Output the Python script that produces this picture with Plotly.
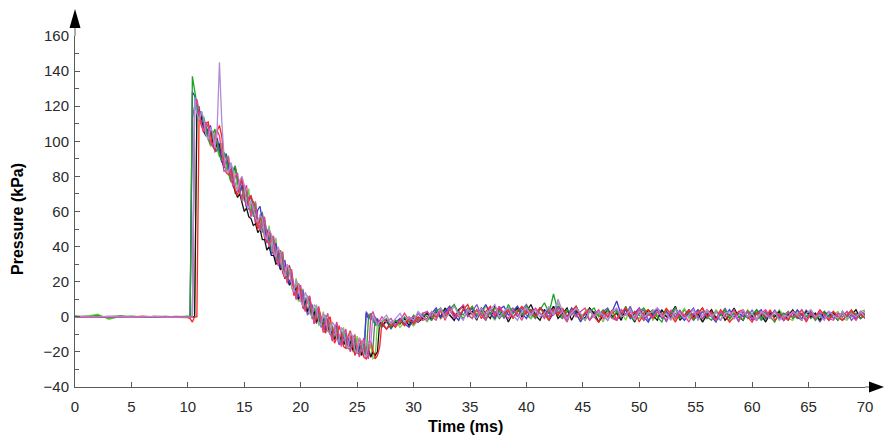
import numpy as np
import plotly.graph_objects as go

# ---------------- data ----------------
# time grid (ms): 1 ms before the shock, 0.2 ms over the positive/negative phase, 0.4 ms in the tail
T_PRE = [0, 1, 2, 3, 4, 5, 6, 7, 8, 9, 10]
T_DECAY = np.round(10.2 + 0.2 * np.arange(85), 1)
T_TAIL = np.round(27.2 + 0.4 * np.arange(108), 1)

SLATE_PRE = [0, 0, -0.2, 0.2, 0, 0, 0.2, -0.2, 0, 0, 0]
SLATE_DECAY = [0, 113, 120, 122, 112, 114, 105, 109, 102, 107,
               102, 94, 95, 99, 93, 83, 83, 87, 87, 78,
               70, 72, 75, 77, 70, 63, 68, 69, 62, 53,
               53, 58, 59, 51, 42, 44, 47, 37, 31, 34,
               36, 31, 23, 28, 29, 21, 13, 17, 11, 14,
               15, 8, 1, 3, 7, 2, -3, 2, -3, -8,
               -3, -1, -8, -13, -8, -11, -16, -13, -10, -16,
               -13, -11, -17, -21, -17, -21, -17, -21, 3, 1,
               -2, 0, -3, -5, -2]
SLATE_TAIL = [-6, -2, -7, -3, -1, -5, 0, -3, 2, -1,
              3, -1, 4, 0, 5, 1, -2, 4, 6, 0,
              3, 7, 1, -2, 4, 2, 6, -1, 3, 5,
              0, 4, 7, 2, -1, 5, 3, 0, 6, 2,
              4, -2, 3, 6, 1, -1, 4, 2, -3, 3,
              5, 0, -2, 4, 1, 6, -1, 2, 4, -2,
              1, 5, 2, -3, 3, 0, 4, -2, 2, 5,
              -1, 3, 0, 4, -2, 1, 5, -1, 2, -3,
              3, 0, 4, -2, 1, 3, -1, 4, 0, 2,
              -2, 3, 1, -1, 4, 0, 2, -3, 1, 3,
              -1, 2, 0, 3, -2, 1, 2, 0]

BLUE_PRE = [0, 0.2, 0, -0.2, 0, 0.2, 0, -0.3, 0, 0.2, 0]
BLUE_DECAY = [0, 128, 126, 119, 113, 117, 110, 103, 107, 109,
              103, 96, 102, 96, 88, 91, 93, 86, 78, 83,
              85, 78, 71, 75, 69, 62, 67, 68, 61, 55,
              61, 63, 54, 47, 50, 44, 36, 37, 42, 34,
              28, 31, 32, 24, 19, 24, 18, 10, 12, 16,
              11, 5, 9, 10, 3, -3, 2, 4, -3, -1,
              -7, -2, -7, -12, -7, -5, -11, -16, -11, -15,
              -12, -17, -15, -13, -20, -18, -16, -22, 2, -1,
              2, -2, -4, -1, -5]
BLUE_TAIL = [-4, -7, -3, -5, -1, -4, -6, -1, -3, 1,
             -2, 2, 5, 0, 3, 6, 1, -2, 4, 2,
             5, 0, 3, 7, 2, -1, 4, 6, 1, 3,
             6, 2, -1, 4, 1, 5, 3, -2, 2, 6,
             3, 0, 5, 2, -3, 2, 4, 0, 3, 1,
             -2, 3, 9, 1, 4, -1, 2, 5, 0, -3,
             2, 4, -1, 3, 0, 5, 1, -2, 3, 1,
             4, -1, 2, 0, -3, 3, 1, 4, -1, 2,
             0, 3, -2, 2, 4, -1, 1, 3, 0, -2,
             2, 0, 4, 1, -2, 3, 0, 2, -1, 1,
             3, 0, -2, 1, 2, -1, 3, 1]

GREEN_PRE = [0.5, 0, 0.8, -0.8, 0, 0.3, 0, -0.3, 0.2, 0, 0.4]
GREEN_DECAY = [0, 137, 129, 121, 113, 110, 114, 108, 101, 98,
               104, 107, 99, 92, 89, 94, 90, 82, 77, 84,
               86, 79, 71, 68, 74, 71, 63, 59, 66, 62,
               53, 50, 57, 55, 47, 41, 46, 44, 35, 31,
               38, 33, 24, 21, 27, 25, 16, 12, 19, 15,
               6, 5, 12, 8, 0, -2, 5, 2, -5, -6,
               1, -3, -9, -12, -5, -7, -14, -15, -8, -10,
               -18, -19, -11, -13, -20, -21, -15, -16, -23, -1,
               2, -2, -5, -3, -6]
GREEN_TAIL = [-3, -1, -6, -2, -4, 0, -3, 1, -2, 2,
              0, -2, 3, 5, 1, 4, 7, 2, -1, 3,
              6, 1, 4, -1, 2, 5, 3, 0, 7, 2,
              4, 1, 6, 3, -1, 4, 8, 2, 13, 3,
              0, 4, 2, 6, 1, -2, 3, 5, 0, 2,
              4, -1, 3, 1, 6, 0, -2, 3, 5, 1,
              3, 0, -3, 4, 2, 5, -1, 1, 3, -2,
              2, 5, 0, -2, 3, 1, 4, -1, 2, 0,
              -2, 3, 1, 4, -1, 2, 0, -3, 2, 1,
              3, -1, 1, 4, 0, 2, -2, 1, 3, 0,
              1, -2, 2, 0, 3, 1, -1, 2]

RED_PRE = [0, -0.3, 0, 0.2, 0, -0.2, 0.3, 0, -0.2, 0, -0.5]
RED_DECAY = [-1, -3, 0, 0, 117, 109, 105, 110, 111, 103,
             97, 95, 106, 109, 103, 90, 82, 81, 84, 80,
             72, 69, 76, 79, 70, 63, 66, 69, 64, 55,
             50, 56, 56, 45, 43, 49, 46, 36, 34, 38,
             35, 25, 22, 28, 29, 21, 12, 14, 19, 13,
             5, 4, 10, 11, 4, -4, -1, 5, 0, -8,
             -9, -2, 0, -8, -15, -12, -5, -10, -17, -18,
             -11, -8, -15, -22, -19, -12, -17, -23, -24, -16,
             -14, -20, -24, -22, -17]
RED_TAIL = [-3, -7, -4, -6, -2, -5, -1, -4, 0, -2,
            -1, 3, 0, 4, -2, 5, 2, 0, 4, 7,
            1, 4, -1, 3, 6, 0, 5, 2, 4, -1,
            3, 6, 2, 4, 0, 5, 2, -2, 4, 1,
            5, 0, 3, 6, -1, 2, 4, 0, -3, 3,
            0, 4, -2, 2, 5, 0, 3, -3, 2, 4,
            -1, 3, 0, 5, 1, -3, 2, 0, 4, -1,
            2, 5, 0, 3, -2, 4, 1, -3, 0, 3,
            4, 0, -3, 2, 3, 0, 4, -2, 1, 0,
            -2, 3, 0, 2, -3, 2, 0, 4, 1, -2,
            3, 0, -2, 1, 4, 0, 2, -1]

LILAC_PRE = [0, -0.2, 0, 0.3, 0, -0.2, 0, 0.2, -0.2, 0, 0]
LILAC_DECAY = [0, 0, 125, 116, 112, 117, 113, 104, 101, 108,
               105, 96, 108, 145, 112, 92, 83, 82, 88, 84,
               75, 72, 78, 80, 75, 64, 62, 66, 62, 56,
               54, 58, 56, 46, 44, 50, 47, 37, 34, 40,
               36, 27, 23, 30, 27, 18, 14, 21, 18, 9,
               6, 14, 11, 2, 0, 7, 5, -3, -5, 2,
               0, -8, -10, -3, -5, -13, -14, -6, -8, -16,
               -18, -9, -11, -19, -21, -12, -14, -21, -23, -14,
               -16, 1, -2, -5, -3]
LILAC_TAIL = [-2, 1, -4, -1, 2, -3, 0, -2, 3, 0,
              -2, 3, 1, 5, -1, 2, 6, 1, -2, 4,
              2, -1, 5, 1, 4, 7, 0, 3, 5, 1,
              -2, 3, 5, 1, 4, 0, 2, 6, 1, 10,
              3, -1, 2, 5, 2, -2, 4, 0, 3, 1,
              -2, 3, 5, 0, 1, 4, -2, 3, 0, 2,
              3, 5, 0, 2, -2, 4, 2, -1, 1, 4,
              -2, 1, 4, 0, 3, -2, 2, 3, -1, 1,
              4, 0, 2, -2, 3, 1, -1, 3, -2, 1,
              0, 3, 1, -2, 2, 4, 0, 1, -2, 3,
              1, -1, 3, -1, 2, 0, 3, 0]

MAGENTA_PRE = [0, 0, 0.2, 0, -0.2, 0, 0.2, 0, -0.2, 0, -0.3]
MAGENTA_DECAY = [0, 0, 119, 124, 117, 110, 106, 111, 108, 99,
                 97, 103, 106, 103, 93, 85, 89, 91, 80, 74,
                 80, 82, 72, 66, 72, 75, 64, 57, 64, 65,
                 54, 49, 55, 57, 46, 40, 45, 46, 35, 29,
                 35, 37, 26, 19, 25, 27, 16, 10, 16, 18,
                 8, 3, 10, 12, 3, -4, 3, 6, -3, -9,
                 -2, 2, -8, -14, -7, -3, -12, -17, -10, -7,
                 -16, -20, -13, -10, -19, -23, -16, -12, -21, -24,
                 0, 3, -1, -4, -2]
MAGENTA_TAIL = [0, -3, -1, -5, -2, 2, -2, 0, -3, 2,
                3, 0, -2, 4, 1, 5, -1, 3, 7, 1,
                -1, 4, 2, -2, 5, 1, 6, 2, -1, 4,
                2, -2, 4, 1, 5, 2, -1, 4, 1, 5,
                1, -3, 4, 0, 3, 5, -2, 1, 4, -1,
                2, -1, -2, 4, 1, 3, -1, 5, -2, 1,
                0, 3, 1, -2, 4, -1, 3, 1, -3, 2,
                3, -1, 4, 1, -2, 3, 0, 1, 4, -2,
                1, 3, -1, -2, 2, 4, 0, 3, 1, -2,
                3, 0, 1, 4, -2, 2, -1, 3, 1, -1,
                -2, 2, 0, 3, 1, -2, 2, 3]

LIME_PRE = [0, 0.3, 1.5, -1.5, 0.3, 0, -0.2, 0, 0.2, 0, 0]
LIME_DECAY = [0, 0, 0, 120, 114, 117, 105, 108, 110, 97,
              99, 106, 95, 91, 99, 86, 84, 92, 77, 77,
              86, 72, 70, 79, 66, 65, 73, 58, 58, 66,
              52, 52, 60, 45, 44, 52, 38, 37, 45, 30,
              29, 37, 22, 22, 29, 16, 15, 22, 9, 9,
              16, 4, 4, 11, -1, -1, 7, -5, -4, 3,
              -9, -8, 0, -13, -12, -4, -15, -14, -6, -18,
              -17, -8, -20, -19, -11, -22, -21, -13, -24, -22,
              -15, -24, -23, -3, -6]
LIME_TAIL = [-4, -7, -5, -2, -6, -3, -1, -5, -2, 1,
             -3, 2, -1, 3, 0, 4, 1, -2, 5, 2,
             -1, 4, 1, 6, 2, -2, 4, 0, 5, 3,
             6, 1, 4, -1, 2, 5, 1, -2, 4, 8,
             2, -1, 4, 1, -2, 3, 5, 0, 2, -3,
             4, 1, -1, 3, -2, 5, 1, -1, 3, 4,
             -2, 1, 4, 0, 3, -2, 1, 5, -1, 2,
             1, -3, 3, 0, 4, 1, -1, -2, 3, 1,
             -2, 4, 1, -1, 3, -2, 1, 0, 4, 1,
             -1, -2, 3, 1, 0, 4, 1, -2, 0, 3,
             1, 3, -1, -2, 2, 0, 3, 4]

BLACK_PRE = [0, 0.2, -0.2, 0, 0.3, 0, -0.3, 0.2, 0, -0.2, 0]
BLACK_DECAY = [0, 0, 0, 116, 118, 113, 106, 103, 107, 105,
               99, 95, 99, 98, 90, 85, 88, 87, 79, 75,
               72, 68, 70, 64, 60, 62, 57, 56, 52, 53,
               48, 50, 44, 44, 38, 40, 35, 35, 30, 31,
               27, 28, 22, 23, 18, 20, 15, 16, 10, 12,
               6, 9, 3, 6, 0, 3, -3, 0, -5, -3,
               -8, -5, -10, -8, -13, -10, -14, -11, -16, -13,
               -18, -14, -19, -16, -21, -17, -22, -18, -22, -19,
               -23, -20, -22, -20, -3]
BLACK_TAIL = [-5, -2, -6, -3, -4, -1, -5, 0, -3, -1,
              2, -2, 3, 0, 5, 1, -2, 4, 6, 1,
              3, -2, 5, 2, -1, 6, 1, 3, -3, 2,
              5, 0, 3, 7, 1, -2, 4, 2, 6, -1,
              2, 5, -2, 3, 1, -1, 5, 2, -3, 1,
              4, 0, 2, -2, 5, 1, -3, 3, 0, 4,
              1, -2, 4, 0, 2, 6, -2, 1, 4, 0,
              2, -3, 1, 4, -1, 3, -2, 1, 5, 0,
              -2, 3, 0, 4, 1, -3, 2, 0, 3, -2,
              1, 4, 0, -2, 3, 0, 2, -2, 3, 0,
              2, -2, 3, 0, 1, 4, -1, 1]

DKGREEN_PRE = [0, 0, 0.2, 0, -0.2, 0, 0, 0.2, 0, 0, 0]
DKGREEN_DECAY = [0, 0, 121, 117, 120, 109, 112, 104, 107, 99,
                 103, 97, 94, 99, 88, 92, 84, 88, 78, 82,
                 74, 79, 70, 74, 66, 70, 61, 65, 57, 61,
                 52, 57, 48, 53, 43, 48, 38, 43, 33, 38,
                 27, 33, 22, 28, 18, 24, 13, 19, 9, 15,
                 5, 11, 2, 8, -1, 5, -4, 3, -6, 0,
                 -8, -2, -10, -5, -13, -7, -14, -8, -16, -10,
                 -18, -12, -19, -14, -21, -15, -22, -16, -23, -17,
                 -23, -18, 0, -3, -5]
DKGREEN_TAIL = [-5, -3, -6, -2, -4, -1, -3, -5, -1, 0,
                -2, 1, 3, -1, 2, 4, 0, 3, 1, 5,
                2, 0, 4, 1, 5, 3, -1, 2, 4, 0,
                3, 5, 1, -1, 4, 2, 0, 5, 3, 1,
                -1, 3, 1, 4, 0, 2, -2, 3, 1, 4,
                0, 2, 4, -1, 2, 0, 3, 1, -2, 2,
                4, 1, 0, 3, -1, 2, 0, 4, 1, -2,
                1, 3, -1, 2, 0, -2, 3, 1, 0, 2,
                3, -1, 1, 2, -2, 0, 3, 1, -1, 2,
                0, 2, -1, 1, 3, -1, 1, 0, 2, -2,
                1, 0, 2, -1, 0, 2, 1, 0]

# drawing order and colours
SERIES = [
    (DKGREEN_PRE, DKGREEN_DECAY, DKGREEN_TAIL, "#4f8060"),
    (LIME_PRE, LIME_DECAY, LIME_TAIL, "#78cf3c"),
    (SLATE_PRE, SLATE_DECAY, SLATE_TAIL, "#7b52c4"),
    (BLACK_PRE, BLACK_DECAY, BLACK_TAIL, "#111111"),
    (BLUE_PRE, BLUE_DECAY, BLUE_TAIL, "#3b3bd0"),
    (GREEN_PRE, GREEN_DECAY, GREEN_TAIL, "#1fa31f"),
    (RED_PRE, RED_DECAY, RED_TAIL, "#ff2222"),
    (MAGENTA_PRE, MAGENTA_DECAY, MAGENTA_TAIL, "#e2409a"),
    (LILAC_PRE, LILAC_DECAY, LILAC_TAIL, "#b08cd6"),
]

X_TICKS = list(range(0, 71, 5))
Y_TICKS = list(range(-40, 161, 20))

# ---------------- figure ----------------
W, H = 884, 436
ML, MR, MT, MB = 75, 19, 36, 49
PW, PH = W - ML - MR, H - MT - MB


def px(x):
    return (x - ML) / PW


def py(y):
    return (H - MB - y) / PH


TIME = np.concatenate([T_PRE, T_DECAY, T_TAIL])

fig = go.Figure()
for pre, dec, tail, col in SERIES:
    vals = list(pre) + list(dec) + list(tail)
    assert len(vals) == len(TIME), (len(pre), len(dec), len(tail))
    fig.add_trace(go.Scatter(x=TIME, y=vals, mode="lines",
                             line=dict(color=col, width=1.3),
                             showlegend=False, hoverinfo="skip"))

AX = "#5a5a5a"
FONT = "Liberation Sans, Arial, sans-serif"

fig.update_layout(
    width=W, height=H,
    margin=dict(l=ML, r=MR, t=MT, b=MB),
    plot_bgcolor="white", paper_bgcolor="white",
    showlegend=False,
    xaxis=dict(range=[0, 70], tickvals=X_TICKS, ticks="inside", ticklen=5,
               tickcolor=AX, showline=True, linecolor=AX, linewidth=1,
               showgrid=False, zeroline=False,
               tickfont=dict(family=FONT, size=15, color="#2a2a2a"),
               ticklabelstandoff=6),
    yaxis=dict(range=[-40, 160], tickvals=Y_TICKS, ticks="inside", ticklen=5,
               tickcolor=AX, showline=True, linecolor=AX, linewidth=1,
               showgrid=False, zeroline=False,
               minor=dict(ticks="inside", ticklen=4, dtick=10, tickcolor=AX),
               tickfont=dict(family=FONT, size=15, color="#2a2a2a"),
               ticklabelstandoff=2),
)

# axis extensions with arrow heads
fig.add_shape(type="line", xref="paper", yref="paper",
              x0=px(ML), y0=1, x1=px(ML), y1=py(26), line=dict(color=AX, width=1))
fig.add_shape(type="path", xref="paper", yref="paper",
              path=f"M {px(ML)} {py(9)} L {px(ML - 5.5)} {py(28)} L {px(ML + 5.5)} {py(28)} Z",
              fillcolor="black", line=dict(color="black", width=0))
fig.add_shape(type="line", xref="paper", yref="paper",
              x0=1, y0=0, x1=px(872), y1=0, line=dict(color=AX, width=1))
fig.add_shape(type="path", xref="paper", yref="paper",
              path=f"M {px(884)} {py(H - MB)} L {px(869)} {py(H - MB - 5.5)} L {px(869)} {py(H - MB + 5.5)} Z",
              fillcolor="black", line=dict(color="black", width=0))

fig.add_annotation(text="<b>Time (ms)</b>", xref="paper", yref="paper",
                   x=px(465), y=py(427), showarrow=False,
                   xanchor="center", yanchor="middle",
                   font=dict(family=FONT, size=16, color="black"))
fig.add_annotation(text="<b>Pressure (kPa)</b>", xref="paper", yref="paper",
                   x=px(18), y=py(219), showarrow=False, textangle=-90,
                   xanchor="center", yanchor="middle",
                   font=dict(family=FONT, size=16, color="black"))

fig.write_html("out.html", config={"displayModeBar": False},
               post_script="document.body.style.margin='0';document.body.style.padding='0';")
